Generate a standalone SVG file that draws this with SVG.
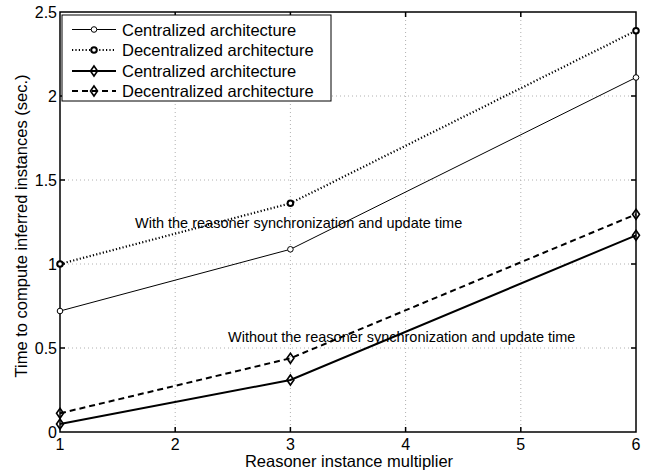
<svg xmlns="http://www.w3.org/2000/svg" width="650" height="472" viewBox="0 0 650 472">
<style>
text{font-family:"Liberation Sans",Arial,sans-serif;fill:#000}
.tick{font-size:16px}
.lab{font-size:16.5px}
.ann{font-size:14.5px}
.leg{font-size:16.5px}
.grid{stroke:#b0b0b0;stroke-width:1;stroke-dasharray:1,3;fill:none}
.ax{stroke:#000;stroke-width:1.5;fill:none}
.s1{stroke:#000;stroke-width:1;fill:none}
.s2{stroke:#000;stroke-width:2.2;fill:none;stroke-dasharray:1.2,2.2}
.s3{stroke:#000;stroke-width:2;fill:none}
.s4{stroke:#000;stroke-width:2;fill:none;stroke-dasharray:6,4}
.mc{stroke:#000;stroke-width:1;fill:#fff}
.mc2{stroke:#000;stroke-width:2;fill:#fff}
.md{stroke:#000;stroke-width:1.6;fill:none}
</style>
<defs>
<path id="dia" d="M0,-5 L3.5,0 L0,5 L-3.5,0 Z"/>
</defs>
<rect x="0" y="0" width="650" height="472" fill="#fff"/>
<g id="grid">
<path class="grid" d="M175.2,12V432M290.4,12V432M405.6,12V432M520.8,12V432M60,348H636M60,264H636M60,180H636M60,96H636"/>
</g>
<g id="axes">
<rect class="ax" x="60" y="12" width="576" height="420"/>
<path class="ax" stroke-width="1" d="M175.2,432v-5M290.4,432v-5M405.6,432v-5M520.8,432v-5M175.2,12v5M290.4,12v5M405.6,12v5M520.8,12v5M60,348h5M60,264h5M60,180h5M60,96h5M636,348h-5M636,264h-5M636,180h-5M636,96h-5"/>
<g class="tick" text-anchor="middle">
<text x="60" y="450">1</text><text x="175.2" y="450">2</text><text x="290.4" y="450">3</text><text x="405.6" y="450">4</text><text x="520.8" y="450">5</text><text x="636" y="450">6</text>
</g>
<g class="tick" text-anchor="end">
<text x="57" y="438">0</text><text x="57" y="354">0.5</text><text x="57" y="270">1</text><text x="57" y="186">1.5</text><text x="57" y="102">2</text><text x="57" y="18">2.5</text>
</g>
<text class="lab" x="349" y="467" text-anchor="middle">Reasoner instance multiplier</text>
<text class="lab" transform="translate(27,226) rotate(-90)" text-anchor="middle" font-size="17px">Time to compute inferred instances (sec.)</text>
</g>
<g id="connectors">
<polyline id="cent-sync" class="s1" points="60,311 290.4,249.3 636,77.5"/>
<polyline id="decent-sync" class="s2" points="60,264 290.4,203.3 636,30.7"/>
<polyline id="cent-nosync" class="s3" points="60,424 290.4,380 636,235.3"/>
<polyline id="decent-nosync" class="s4" points="60,413.3 290.4,358.3 636,214.3"/>
</g>
<g id="markers">
<circle class="mc" cx="60" cy="311" r="2.8"/><circle class="mc" cx="290.4" cy="249.3" r="2.8"/><circle class="mc" cx="636" cy="77.5" r="2.8"/>
<circle class="mc2" cx="60" cy="264" r="2.8"/><circle class="mc2" cx="290.4" cy="203.3" r="2.8"/><circle class="mc2" cx="636" cy="30.7" r="2.8"/>
<use href="#dia" class="md" x="60" y="424"/><use href="#dia" class="md" x="290.4" y="380"/><use href="#dia" class="md" x="636" y="235.3"/>
<use href="#dia" class="md" x="60" y="413.3"/><use href="#dia" class="md" x="290.4" y="358.3"/><use href="#dia" class="md" x="636" y="214.3"/>
</g>
<g id="annotations" class="ann">
<text x="135" y="228">With the reasoner synchronization and update time</text>
<text x="228" y="342">Without the reasoner synchronization and update time</text>
</g>
<g id="legend">
<rect x="62" y="15" width="269" height="86" fill="#fff" stroke="#000" stroke-width="1"/>
<line class="s1" x1="72" y1="29.5" x2="116" y2="29.5"/><circle class="mc" cx="94" cy="29.5" r="2.8"/>
<text class="leg" x="122" y="35.5">Centralized architecture</text>
<line class="s2" x1="72" y1="50" x2="116" y2="50"/><circle class="mc2" cx="94" cy="50" r="2.8"/>
<text class="leg" x="122" y="56">Decentralized architecture</text>
<line class="s3" x1="72" y1="71" x2="116" y2="71"/><use href="#dia" class="md" x="94" y="71"/>
<text class="leg" x="122" y="77">Centralized architecture</text>
<line class="s4" x1="72" y1="91" x2="116" y2="91"/><use href="#dia" class="md" x="94" y="91"/>
<text class="leg" x="122" y="97">Decentralized architecture</text>
</g>
</svg>
